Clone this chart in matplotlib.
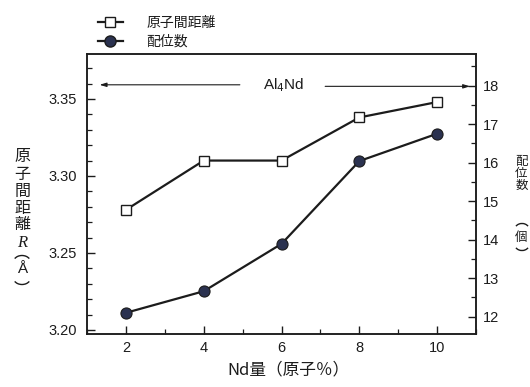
import matplotlib
matplotlib.use("Agg")
import matplotlib.pyplot as plt
from matplotlib.ticker import MultipleLocator
from matplotlib.lines import Line2D
from matplotlib.patches import Arc

plt.rcParams['font.family'] = ['Liberation Sans', 'Noto Sans CJK JP', 'DejaVu Sans']

nd_amount = [2, 4, 6, 8, 10]
distance_R = [3.278, 3.310, 3.310, 3.338, 3.348]
coord_number = [12.10, 12.66, 13.89, 16.04, 16.75]

x_ticks = [2, 4, 6, 8, 10]
left_ticks = [3.20, 3.25, 3.30, 3.35]
left_labels = ['3.20', '3.25', '3.30', '3.35']
right_ticks = [12, 13, 14, 15, 16, 17, 18]

ink = '#1c1c1c'
fill = '#2b3250'
cjk = ['Noto Sans CJK JP', 'DejaVu Sans']

fig = plt.figure(figsize=(5.3, 3.87), dpi=100)
ax = fig.add_axes([0.1642, 0.137, 0.734, 0.7235])
ax2 = ax.twinx()

ax.plot(nd_amount, distance_R, color=ink, lw=1.6, marker='s', ms=7.5,
        mfc='white', mec=ink, mew=1.0, zorder=3)
ax2.plot(nd_amount, coord_number, color=ink, lw=1.6, marker='o', ms=8,
         mfc=fill, mec=ink, mew=0.8, zorder=3)

ax.set_xlim(1, 11)
ax.set_ylim(3.1974, 3.3792)
ax2.set_ylim(11.55, 18.82)

ax.set_xticks(x_ticks)
ax.xaxis.set_minor_locator(MultipleLocator(1))
ax.set_yticks(left_ticks)
ax.set_yticklabels(left_labels)
ax.yaxis.set_minor_locator(MultipleLocator(0.01))
ax2.set_yticks(right_ticks)
ax2.yaxis.set_minor_locator(MultipleLocator(0.5))

for a in (ax, ax2):
    for s in a.spines.values():
        s.set_color(ink)
        s.set_linewidth(1.1)
ax.tick_params(axis='both', which='major', direction='in', length=6, width=1.0,
               color=ink, labelsize=10.5, labelcolor=ink)
ax.tick_params(axis='both', which='minor', direction='in', length=3.5, width=0.9, color=ink)
ax.tick_params(axis='y', pad=7)
ax.tick_params(axis='x', pad=5)
ax2.tick_params(axis='y', which='major', direction='in', length=6, width=1.0,
                color=ink, labelsize=10.5, labelcolor=ink, pad=5)
ax2.tick_params(axis='y', which='minor', direction='in', length=3.5, width=0.9, color=ink)

# phase range annotation
ax2.text(6.05, 18.0, 'Al$_{4}$Nd', ha='center', va='center', fontsize=11, color=ink)
arrow = dict(arrowstyle='-|>,head_length=0.4,head_width=0.12', color=ink, lw=0.8)
ax2.annotate('', xy=(1.25, 18.02), xytext=(5.0, 18.02), arrowprops=arrow)
ax2.annotate('', xy=(10.92, 17.98), xytext=(7.05, 17.98), arrowprops=arrow)

# legend above the axes
handles = [
    Line2D([], [], color=ink, lw=1.6, marker='s', ms=7.5, mfc='white', mec=ink),
    Line2D([], [], color=ink, lw=1.6, marker='o', ms=8, mfc=fill, mec=ink),
]
leg = fig.legend(handles, ['原子間距離', '配位数'], loc='upper left',
                 bbox_to_anchor=(0.161, 0.992), frameon=False, handlelength=1.8,
                 handletextpad=1.7, labelspacing=0.35, prop={'family': cjk, 'size': 10})
for t in leg.get_texts():
    t.set_color(ink)

# x label
fig.text(0.545, 0.044, 'Nd量（原子％）', ha='center', va='center', fontsize=12,
         family=cjk, color=ink)

H = 387.0
DPI = 100.0


def fy(py):
    return 1 - py / H


def vparen(px, py, w, h, top):
    # vertical-writing bracket drawn as an arc, position in pixels from top-left
    theta = (25, 155) if top else (205, 335)
    fig.add_artist(Arc((px / DPI, (H - py) / DPI), w / DPI, h / DPI,
                       theta1=theta[0], theta2=theta[1], color=ink, lw=1.0,
                       transform=fig.dpi_scale_trans))


# stacked left label
lx = 0.042
for ch, py in zip(['原', '子', '間', '距', '離'], [157, 174, 191, 208, 225]):
    fig.text(lx, fy(py), ch, ha='center', va='center', fontsize=11.5,
             family=cjk, color=ink)
fig.text(lx, fy(243), 'R', ha='center', va='center', fontsize=12,
         family=['Liberation Serif'], style='italic', color=ink)
vparen(22, 262, 17, 13, True)
fig.text(lx, fy(269), 'Å', ha='center', va='center', fontsize=11,
         family=['Liberation Sans'], color=ink)
vparen(22, 278, 17, 13, False)

# stacked right label
rx = 0.984
for ch, py in zip(['配', '位', '数'], [161, 173, 185]):
    fig.text(rx, fy(py), ch, ha='center', va='center', fontsize=9,
             family=cjk, color=ink)
vparen(522, 229, 14, 11, True)
fig.text(rx, fy(237), '個', ha='center', va='center', fontsize=9,
         family=cjk, color=ink)
vparen(522, 245, 14, 11, False)

fig.savefig('out.png', dpi=100)
